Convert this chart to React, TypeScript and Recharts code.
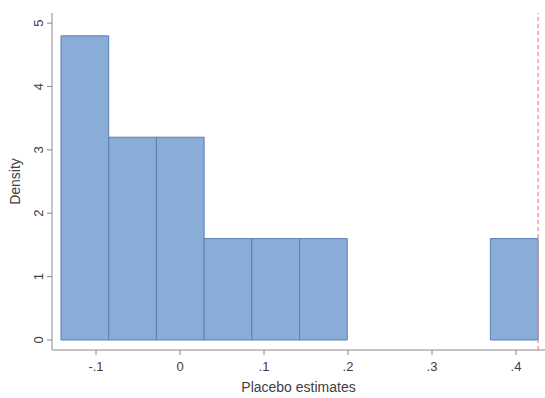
import React from 'react';
import { ComposedChart, XAxis, YAxis, ReferenceArea, ReferenceLine, Label } from 'recharts';

// histogram bins (edges) and their densities
const binEdges = [-0.1417, -0.0849, -0.0281, 0.0287, 0.0855, 0.1423, 0.1991, 0.2559, 0.3127, 0.3695, 0.4263];
const densities = [4.8, 3.2, 3.2, 1.6, 1.6, 1.6, 0, 0, 0, 1.6];
const xTicks = [-0.1, 0, 0.1, 0.2, 0.3, 0.4];
const yTicks = [0, 1, 2, 3, 4, 5];
const actualEstimate = 0.4263;

const bins = densities.map((d, i) => ({ lo: binEdges[i], hi: binEdges[i + 1], density: d }));

const fmtX = (v: number) => {
    if (v === 0) return '0';
    const s = String(Math.round(v * 10) / 10);
    return s.replace('0.', '.');
};

const textColor = '#404040';
const axisColor = '#8a8a8a';
const font = 'Liberation Sans, Arial, sans-serif';

function YTick(props: any) {
    const { x, y, payload } = props;
    return (
        <text
            x={x - 2}
            y={y}
            transform={`rotate(-90, ${x - 2}, ${y})`}
            textAnchor="middle"
            fontSize={13}
            fill={textColor}
            fontFamily={font}
        >
            {payload.value}
        </text>
    );
}

export default function App() {
    return (
        <div style={{ position: 'absolute', left: 0, top: 0, background: '#fff' }}>
            <ComposedChart
                width={545}
                height={398}
                data={bins}
                margin={{ top: 13, right: 0, bottom: 0, left: 0 }}
            >
                <XAxis
                    type="number"
                    dataKey="lo"
                    domain={[-0.1524, 0.4345]}
                    allowDataOverflow
                    ticks={xTicks}
                    tickFormatter={fmtX}
                    height={48}
                    stroke={axisColor}
                    tickSize={5}
                    tick={{ fontSize: 13, fill: textColor, fontFamily: font }}
                    tickMargin={7}
                >
                    <Label
                        value="Placebo estimates"
                        position="insideBottom"
                        offset={6}
                        style={{ fontSize: 14, fill: textColor, fontFamily: font }}
                    />
                </XAxis>
                <YAxis
                    type="number"
                    domain={[-0.158, 5.16]}
                    allowDataOverflow
                    ticks={yTicks}
                    width={52}
                    stroke={axisColor}
                    tickSize={5}
                    tick={<YTick />}
                >
                    <Label
                        value="Density"
                        angle={-90}
                        position="insideLeft"
                        offset={15}
                        style={{ textAnchor: 'middle', fontSize: 14, fill: textColor, fontFamily: font }}
                    />
                </YAxis>
                {bins.filter((b) => b.density > 0).map((b, i) => (
                    <ReferenceArea
                        key={i}
                        x1={b.lo}
                        x2={b.hi}
                        y1={0}
                        y2={b.density}
                        fill="#8aadd8"
                        fillOpacity={1}
                        stroke="#5a7fb4"
                        strokeWidth={1}
                    />
                ))}
                <ReferenceLine
                    x={actualEstimate}
                    stroke="#f08a8a"
                    strokeDasharray="4 3"
                    strokeWidth={1.2}
                />
            </ComposedChart>
        </div>
    );
}
